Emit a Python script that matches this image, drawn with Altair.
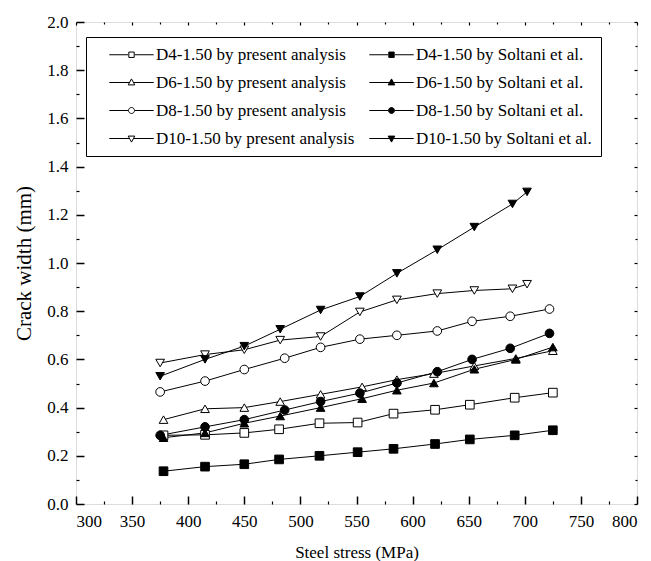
import altair as alt
import pandas as pd

# ---- data ----
series = [
    "D4-1.50 by present analysis", "D4-1.50 by Soltani et al.",
    "D6-1.50 by present analysis", "D6-1.50 by Soltani et al.",
    "D8-1.50 by present analysis", "D8-1.50 by Soltani et al.",
    "D10-1.50 by present analysis", "D10-1.50 by Soltani et al.",
]

x_d4 = [378, 415, 450, 481, 517, 551, 583, 620, 651, 691, 725]
y_d4_present = [0.285, 0.287, 0.295, 0.31, 0.335, 0.338, 0.375, 0.391, 0.412, 0.441, 0.462]
y_d4_soltani = [0.136, 0.155, 0.165, 0.185, 0.20, 0.215, 0.229, 0.249, 0.268, 0.285, 0.306]

x_d6 = [378, 415, 450, 482, 518, 555, 586, 619, 655, 692, 725]
y_d6_present = [0.35, 0.395, 0.40, 0.425, 0.455, 0.486, 0.516, 0.541, 0.573, 0.604, 0.636]
y_d6_soltani = [0.275, 0.295, 0.335, 0.365, 0.40, 0.437, 0.472, 0.502, 0.559, 0.60, 0.651]

x_d8 = [375, 415, 450, 486, 518, 553, 586, 622, 653, 687, 722]
y_d8_present = [0.465, 0.51, 0.558, 0.605, 0.65, 0.684, 0.70, 0.718, 0.758, 0.779, 0.809]
y_d8_soltani = [0.285, 0.32, 0.35, 0.39, 0.425, 0.46, 0.502, 0.549, 0.60, 0.646, 0.708]

x_d10 = [375, 415, 450, 482, 518, 553, 586, 622, 655, 689, 702]
y_d10_present = [0.585, 0.62, 0.64, 0.68, 0.695, 0.797, 0.847, 0.873, 0.886, 0.893, 0.912]
y_d10_soltani = [0.53, 0.60, 0.655, 0.725, 0.805, 0.861, 0.957, 1.055, 1.149, 1.245, 1.295]

x_ticks = [300, 350, 400, 450, 500, 550, 600, 650, 700, 750, 800]
x_minor = [325, 375, 425, 475, 525, 575, 625, 675, 725, 775]
y_ticks = [0.0, 0.2, 0.4, 0.6, 0.8, 1.0, 1.2, 1.4, 1.6, 1.8, 2.0]
y_minor = [0.1, 0.3, 0.5, 0.7, 0.9, 1.1, 1.3, 1.5, 1.7, 1.9]

point_shapes = ["square", "square", "triangle-up", "triangle-up",
                "circle", "circle", "triangle-down", "triangle-down"]
fills = ["white", "black"] * 4

# legend symbols: short line with the marker in the middle (unit = 3 px)
sq = "M-7.4,0H-1.1M1.1,0H7.4M-0.9,-0.9H0.9V0.9H-0.9Z"
tu = "M-7.4,0H-0.8M0.8,0H7.4M0,-1.2L1.1,0.8H-1.1Z"
ci = "M-7.4,0H-1.1M1.1,0H7.4M1,0A1,1,0,1,1,-1,0A1,1,0,1,1,1,0Z"
td = "M-7.4,0H-0.8M0.8,0H7.4M0,1.2L1.1,-0.8H-1.1Z"
legend_paths = [sq, sq, tu, tu, ci, ci, td, td]

xs = [x_d4, x_d4, x_d6, x_d6, x_d8, x_d8, x_d10, x_d10]
ys = [y_d4_present, y_d4_soltani, y_d6_present, y_d6_soltani,
      y_d8_present, y_d8_soltani, y_d10_present, y_d10_soltani]

rows = []
for s, xv, yv in zip(series, xs, ys):
    for a, b in zip(xv, yv):
        rows.append({"series": s, "stress": a, "width": b})
df = pd.DataFrame(rows)

# legend fills column by column: present analyses left, Soltani et al. right
leg_idx = list(range(0, 8, 2)) + list(range(1, 8, 2))
leg_domain = [series[i] for i in leg_idx]
leg_paths = [legend_paths[i] for i in leg_idx]
leg_fills = [fills[i] for i in leg_idx]

FONT = "Liberation Serif"
xscale = alt.Scale(domain=[300, 800], nice=False, zero=False)
yscale = alt.Scale(domain=[0, 2], nice=False, zero=False)


def X(axis):
    return alt.X("stress:Q", scale=xscale, axis=axis)


def Y(axis):
    return alt.Y("width:Q", scale=yscale, axis=axis)


ax_bottom = alt.Axis(orient="bottom", values=x_ticks, format="d", title="Steel stress (MPa)",
                     offset=-8, tickSize=8, tickWidth=1.5, domain=False, grid=False,
                     labelPadding=9, labelFontSize=17, titleFontSize=17, titleFontWeight="normal",
                     titlePadding=15, labelFont=FONT, titleFont=FONT, labelColor="black",
                     titleColor="black", tickColor="black")
ax_left = alt.Axis(orient="left", values=y_ticks, format=".1f", title="Crack width (mm)",
                   offset=-8, tickSize=8, tickWidth=1.5, domain=False, grid=False,
                   labelPadding=8, labelFontSize=17, titleFontSize=21, titleFontWeight="normal",
                   titlePadding=12, labelFont=FONT, titleFont=FONT, labelColor="black",
                   titleColor="black", tickColor="black")


def tick_axis(orient, vals, size):
    return alt.Axis(orient=orient, values=vals, labels=False, title=None, offset=-size,
                    tickSize=size, tickWidth=1.2, domain=False, grid=False, tickColor="black")


base = alt.Chart(df)

lines = base.mark_line(color="black", strokeWidth=1).encode(
    x=X(ax_bottom), y=Y(ax_left), detail="series:N", order="stress:Q")

points = base.mark_point(filled=True, stroke="black", strokeWidth=1, size=75, opacity=1).encode(
    x=X(None), y=Y(None),
    shape=alt.Shape("series:N", scale=alt.Scale(domain=series, range=point_shapes), legend=None),
    fill=alt.Fill("series:N", scale=alt.Scale(domain=series, range=fills), legend=None),
)

leg = alt.Legend(title=None, orient="none", legendX=10, legendY=15, columns=2,
                 direction="vertical",
                 labelFont=FONT, labelFontSize=17, labelColor="black",
                 symbolSize=36, symbolOffset=28, labelOffset=16,
                 symbolStrokeWidth=1,
                 strokeColor="black", padding=9, fillColor="white",
                 rowPadding=10, columnPadding=-22, labelLimit=400)

legend_layer = base.transform_filter("false").mark_point(
    filled=True, strokeWidth=1, opacity=1).encode(
    x=X(None), y=Y(None),
    shape=alt.Shape("series:N", scale=alt.Scale(domain=leg_domain, range=leg_paths), legend=leg),
    fill=alt.Fill("series:N", scale=alt.Scale(domain=leg_domain, range=leg_fills), legend=leg),
    stroke=alt.Stroke("series:N", scale=alt.Scale(domain=leg_domain, range=["black"] * 8), legend=leg),
)

ticks_tr = base.transform_filter("false").mark_point().encode(
    x=X(tick_axis("top", x_ticks, 3)), y=Y(tick_axis("right", y_ticks, 3)))
ticks_minor_bl = base.transform_filter("false").mark_point().encode(
    x=X(tick_axis("bottom", x_minor, 3)), y=Y(tick_axis("left", y_minor, 3)))
ticks_minor_tr = base.transform_filter("false").mark_point().encode(
    x=X(tick_axis("top", x_minor, 2)), y=Y(tick_axis("right", y_minor, 2)))

chart = alt.layer(lines, points, legend_layer, ticks_tr, ticks_minor_bl, ticks_minor_tr).resolve_scale(
    shape="independent", fill="independent", stroke="independent"
).resolve_axis(x="independent", y="independent").properties(
    width=561, height=482
).configure_view(stroke="black", strokeWidth=1.6).configure(font=FONT)

chart.save("out.html", embed_options={"renderer": "svg", "actions": False})
